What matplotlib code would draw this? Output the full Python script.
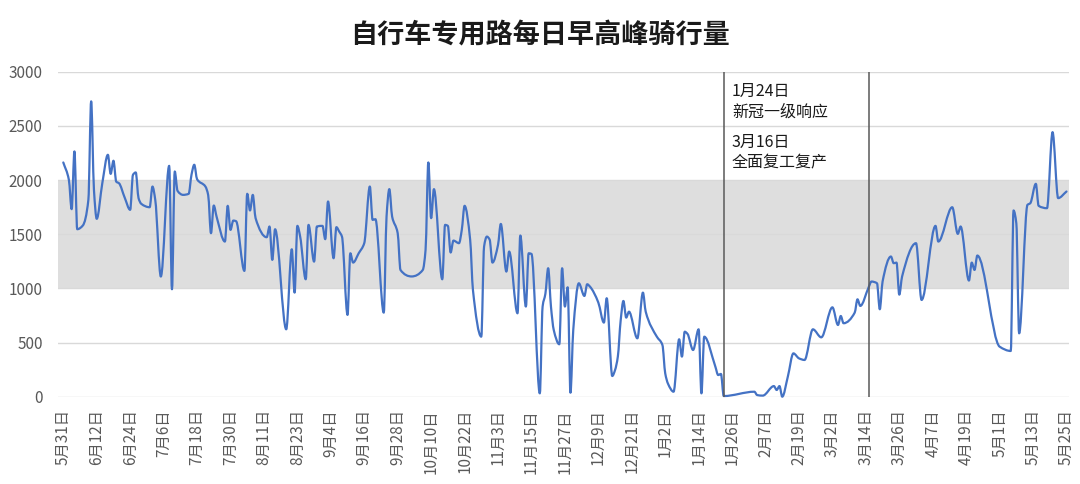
import pandas as pd
import matplotlib
matplotlib.use("Agg")
import matplotlib.pyplot as plt
import matplotlib.dates as mdates
from matplotlib.path import Path
from matplotlib.patches import PathPatch

plt.rcParams['font.family'] = ['Noto Sans CJK SC', 'DejaVu Sans']

# =========================
# Data
# =========================
dates = [
    "2019-05-31", "2019-06-02", "2019-06-03", "2019-06-04", "2019-06-05", "2019-06-07",
    "2019-06-09", "2019-06-10", "2019-06-11", "2019-06-12", "2019-06-14", "2019-06-16",
    "2019-06-17", "2019-06-18", "2019-06-19", "2019-06-20", "2019-06-22", "2019-06-24",
    "2019-06-25", "2019-06-26", "2019-06-27", "2019-06-28", "2019-07-01", "2019-07-02",
    "2019-07-03", "2019-07-05", "2019-07-08", "2019-07-09", "2019-07-10", "2019-07-11",
    "2019-07-13", "2019-07-15", "2019-07-16", "2019-07-17", "2019-07-18", "2019-07-21",
    "2019-07-22", "2019-07-23", "2019-07-24", "2019-07-25", "2019-07-28", "2019-07-29",
    "2019-07-30", "2019-07-31", "2019-08-01", "2019-08-04", "2019-08-05", "2019-08-06",
    "2019-08-07", "2019-08-08", "2019-08-12", "2019-08-13", "2019-08-14", "2019-08-15",
    "2019-08-19", "2019-08-21", "2019-08-22", "2019-08-23", "2019-08-24", "2019-08-26",
    "2019-08-27", "2019-08-29", "2019-08-30", "2019-09-01", "2019-09-02", "2019-09-03",
    "2019-09-05", "2019-09-06", "2019-09-07", "2019-09-08", "2019-09-10", "2019-09-11",
    "2019-09-12", "2019-09-14", "2019-09-16", "2019-09-18", "2019-09-19", "2019-09-20",
    "2019-09-23", "2019-09-24", "2019-09-25", "2019-09-26", "2019-09-28", "2019-09-29",
    "2019-10-03", "2019-10-07", "2019-10-08", "2019-10-09", "2019-10-10", "2019-10-11",
    "2019-10-14", "2019-10-15", "2019-10-16", "2019-10-17", "2019-10-18", "2019-10-20",
    "2019-10-21", "2019-10-22", "2019-10-24", "2019-10-25", "2019-10-28", "2019-10-29",
    "2019-10-30", "2019-10-31", "2019-11-01", "2019-11-03", "2019-11-04", "2019-11-06",
    "2019-11-07", "2019-11-10", "2019-11-11", "2019-11-13", "2019-11-14", "2019-11-15",
    "2019-11-18", "2019-11-19", "2019-11-20", "2019-11-21", "2019-11-22", "2019-11-23",
    "2019-11-25", "2019-11-26", "2019-11-27", "2019-11-28", "2019-11-29", "2019-11-30",
    "2019-12-02", "2019-12-04", "2019-12-05", "2019-12-06", "2019-12-09", "2019-12-11",
    "2019-12-12", "2019-12-14", "2019-12-15", "2019-12-16", "2019-12-17", "2019-12-18",
    "2019-12-19", "2019-12-20", "2019-12-23", "2019-12-25", "2019-12-26", "2019-12-30",
    "2020-01-01", "2020-01-02", "2020-01-03", "2020-01-05", "2020-01-07", "2020-01-08",
    "2020-01-09", "2020-01-10", "2020-01-12", "2020-01-14", "2020-01-15", "2020-01-16",
    "2020-01-20", "2020-01-21", "2020-01-22", "2020-01-23", "2020-02-03", "2020-02-04",
    "2020-02-06", "2020-02-10", "2020-02-11", "2020-02-12", "2020-02-13", "2020-02-15",
    "2020-02-17", "2020-02-19", "2020-02-21", "2020-02-24", "2020-02-27", "2020-03-02",
    "2020-03-04", "2020-03-05", "2020-03-06", "2020-03-10", "2020-03-11", "2020-03-12",
    "2020-03-15", "2020-03-16", "2020-03-18", "2020-03-19", "2020-03-20", "2020-03-23",
    "2020-03-24", "2020-03-25", "2020-03-26", "2020-03-27", "2020-04-01", "2020-04-03",
    "2020-04-08", "2020-04-09", "2020-04-14", "2020-04-16", "2020-04-17", "2020-04-20",
    "2020-04-21", "2020-04-22", "2020-04-23", "2020-05-01", "2020-05-05", "2020-05-06",
    "2020-05-07", "2020-05-08", "2020-05-11", "2020-05-12", "2020-05-14", "2020-05-15",
    "2020-05-18", "2020-05-20", "2020-05-22", "2020-05-25",
]
riders = [
    2162, 2002, 1731, 2264, 1546, 1580,
    1817, 2726, 1910, 1642, 1971, 2233,
    2057, 2178, 1985, 1970, 1840, 1725,
    2048, 2070, 1833, 1780, 1749, 1940,
    1817, 1109, 2131, 992, 2079, 1900,
    1863, 1873, 2048, 2141, 2008, 1940,
    1860, 1509, 1765, 1663, 1432, 1762,
    1540, 1626, 1620, 1161, 1873, 1719,
    1863, 1648, 1472, 1571, 1263, 1546,
    622, 1361, 961, 1577, 1478, 1084,
    1586, 1247, 1571, 1577, 1454, 1802,
    1278, 1565, 1525, 1478, 755, 1324,
    1238, 1324, 1417, 1940, 1632, 1639,
    776, 1663, 1916, 1663, 1509, 1170,
    1110, 1170, 1355, 2162, 1648, 1916,
    1084, 1586, 1577, 1331, 1441, 1417,
    1540, 1762, 1450, 986, 554, 1386,
    1478, 1450, 1238, 1401, 1595, 1155,
    1340, 770, 1488, 832, 1324, 1318,
    31, 832, 950, 1186, 832, 616,
    484, 1186, 832, 1010, 37, 616,
    1047, 930, 1038, 1016, 869, 684,
    909, 191, 246, 370, 700, 884,
    730, 785, 539, 961, 785, 554,
    477, 216, 120, 46, 530, 370,
    600, 580, 431, 622, 31, 554,
    277, 200, 210, 6, 46, 15,
    10, 98, 62, 98, 0, 185,
    400, 354, 339, 622, 548, 825,
    662, 745, 678, 776, 899, 838,
    1010, 1063, 1047, 807, 1063, 1294,
    1232, 1238, 942, 1109, 1417, 893,
    1577, 1432, 1749, 1503, 1571, 1072,
    1238, 1170, 1303, 462, 422, 1719,
    1600, 585, 1771, 1786, 1965, 1762,
    1740, 2442, 1833, 1894,
]

title = "自行车专用路每日早高峰骑行量"
axis_start = "2019-05-31"
axis_end = "2020-05-25"
tick_step_days = 12
band_low, band_high = 1000, 2000
event_dates = ["2020-01-23", "2020-03-15"]
notes = ["1月24日\n新冠一级响应", "3月16日\n全面复工复产"]


def smooth_path(x, y):
    # smoothed line drawn as cubic Bezier segments through every point
    # (monotone tangents so the curve does not overshoot between points)
    n = len(x)
    h = [x[k + 1] - x[k] for k in range(n - 1)]
    d = [(y[k + 1] - y[k]) / h[k] for k in range(n - 1)]
    m = [d[0]] + [0.0] * (n - 2) + [d[-1]]
    for i in range(1, n - 1):
        if d[i - 1] * d[i] > 0:
            w1 = 2 * h[i] + h[i - 1]
            w2 = h[i] + 2 * h[i - 1]
            m[i] = (w1 + w2) / (w1 / d[i - 1] + w2 / d[i])
    verts = [(x[0], y[0])]
    codes = [Path.MOVETO]
    for i in range(n - 1):
        s = h[i] / 3
        verts += [(x[i] + s, y[i] + m[i] * s),
                  (x[i + 1] - s, y[i + 1] - m[i + 1] * s),
                  (x[i + 1], y[i + 1])]
        codes += [Path.CURVE4] * 3
    return Path(verts, codes)


# =========================
# Figure
# =========================
W, H = 1080, 484
fig = plt.figure(figsize=(W / 100, H / 100), dpi=100)
ax = fig.add_axes([58 / W, (H - 396.7) / H, 1011 / W, 325 / H])

xd = mdates.date2num(pd.to_datetime(dates))
x0 = mdates.date2num(pd.Timestamp(axis_start))
x1 = mdates.date2num(pd.Timestamp(axis_end))

ax.set_xlim(x0 - 1.9, x1 + 0.9)
ax.set_ylim(0, 3000)

ax.axhspan(band_low, band_high, color="#dedede", lw=0, zorder=0)

line = PathPatch(smooth_path(list(xd), riders), facecolor="none",
                 edgecolor="#4472C4", lw=1.6, zorder=3, clip_on=False,
                 capstyle="round", joinstyle="round")
ax.add_patch(line)

for dt in event_dates:
    ax.axvline(mdates.date2num(pd.Timestamp(dt)), color="#595959", lw=1.1, zorder=4)

note_y = [0.908, 0.751]
for txt, yy in zip(notes, note_y):
    ax.text((732 - 58) / 1011, yy, txt, transform=ax.transAxes, ha="left",
            va="center", fontsize=11.5, color="#1a1a1a", linespacing=1.25)

# axes styling
ticks = pd.date_range(axis_start, axis_end, freq=f"{tick_step_days}D")
ax.set_xticks(mdates.date2num(ticks))
ax.set_xticklabels([f"{t.month}月{t.day}日" for t in ticks], rotation=90)
ax.set_yticks(range(0, 3001, 500))
ax.tick_params(axis="x", length=0, pad=9, labelsize=11, labelcolor="#595959")
ax.tick_params(axis="y", length=0, pad=11, labelsize=11, labelcolor="#595959")

ax.set_axisbelow(True)
ax.yaxis.grid(True, color="#d9d9d9", lw=1.0)
for s in ax.spines.values():
    s.set_visible(False)

fig.text(0.5, 1 - 35 / H, title, ha="center", va="center",
         fontsize=19.5, fontweight="bold", color="#1a1a1a")

fig.savefig("out.png", dpi=100)
